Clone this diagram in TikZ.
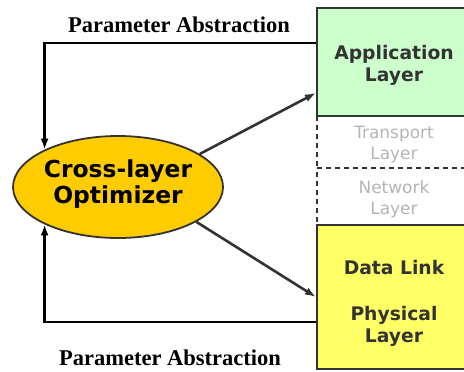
\documentclass[tikz,border=0pt]{standalone}
\usepackage{fontspec}
\setmainfont{DejaVu Sans}
\newfontfamily\labelfont{Liberation Serif}
\usetikzlibrary{shapes.geometric,arrows.meta,positioning}
\definecolor{appgreen}{HTML}{CCFFCC}
\definecolor{linkyellow}{HTML}{FFFF66}
\definecolor{optgold}{HTML}{FFCC00}
\definecolor{edgegray}{HTML}{333333}
\definecolor{stubgray}{HTML}{B4B4B4}
\tikzset{>={Latex[length=11bp,width=8bp]}}
\tikzset{%
    layerbox/.style={%
        draw=edgegray, line width=2.2bp, minimum width=154bp, inner sep=0pt},
    stubbox/.style={%
        draw=edgegray, dash pattern=on 5bp off 4bp, line width=1.4bp,
        minimum width=154bp, inner sep=0pt},
    layertext/.style={%
        align=center, text=edgegray, font=\fontsize{18.8}{22}\selectfont\bfseries},
    stubtext/.style={%
        align=center, text=stubgray, font=\fontsize{17}{21}\selectfont},
    optnode/.style={%
        ellipse, draw=edgegray, line width=1.8bp, fill=optgold, inner sep=0pt,
        minimum width=210bp, minimum height=102bp},
    opttext/.style={%
        align=center, font=\fontsize{23.5}{27}\selectfont\bfseries},
    fbline/.style={->, line width=2.6bp, black},
    flowline/.style={->, line width=2.6bp, edgegray},
    abstr/.style={font=\labelfont\fontsize{22.6}{24}\selectfont\bfseries}
}

\begin{document}
\begin{tikzpicture}[x=1bp,y=1bp]
	\useasboundingbox (0,0) rectangle (464,371);

	% layer stack
	\node[stubbox,minimum height=52bp] (trans) at (394,229) {};
	\node[stubbox,minimum height=57bp] (net) at (394,174.5) {};
	\node[layerbox,fill=appgreen,minimum height=108bp] (app) at (394,309) {};
	\node[layerbox,fill=linkyellow,minimum height=144bp] (phys) at (394,74) {};

	\node[stubtext] (translbl) at ([yshift=-3bp]trans.center) {Transport\\Layer};
	\node[stubtext] (netlbl) at ([yshift=-3bp]net.center) {Network\\Layer};
	\node[layertext] (applbl) at ([yshift=-3bp]app.center) {Application\\Layer};
	\node[layertext] (physlbl) at ([yshift=-6bp]phys.center) {Data Link\\[24bp]Physical\\Layer};

	\node[optnode] (opt) at (118,184) {};
	\node[opttext] (optlbl) at ([yshift=3bp]opt.center) {Cross-layer\\Optimizer};

	\draw[fbline] ([yshift=19bp]app.west) -| (opt.153);
	\draw[fbline] ([yshift=-25bp]phys.west) -| (opt.207);
	\draw[flowline] (opt.22) -- ([yshift=-31bp]app.west);
	\draw[flowline] (opt.336) -- (phys.west);

	\node[abstr] (abstop) at (179,346) {Parameter Abstraction};
	\node[abstr] (absbot) at (170,13) {Parameter Abstraction};
\end{tikzpicture}
\end{document}
